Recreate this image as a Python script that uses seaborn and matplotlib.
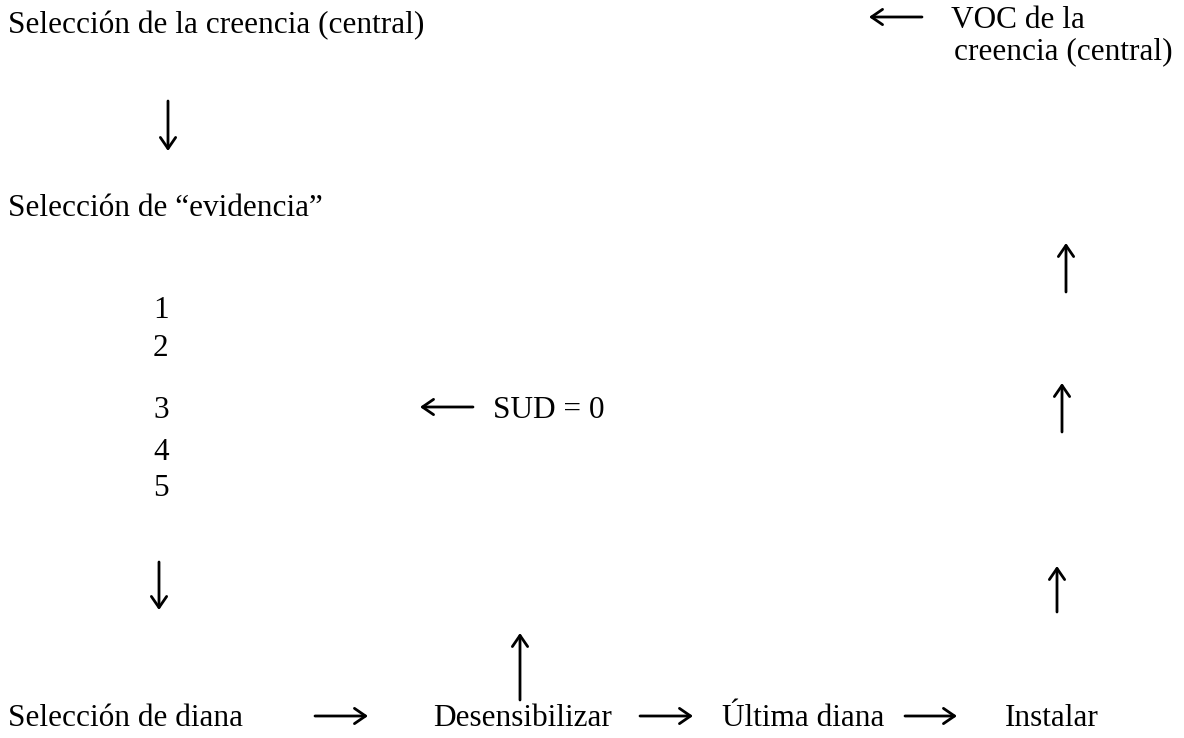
import matplotlib
matplotlib.use("Agg")
import matplotlib.pyplot as plt
import seaborn as sns

sns.set_theme(style="white")
plt.rcParams['font.family'] = ['Liberation Serif', 'DejaVu Serif']

# Diagram content
labels = ["Selección de la creencia (central)", "Selección de “evidencia”",
          "1", "2", "3", "4", "5", "SUD = 0",
          "VOC de la", "creencia (central)",
          "Selección de diana", "Desensibilizar", "Última diana", "Instalar"]
label_x = [8, 8, 153, 153, 153, 153, 153, 493, 951, 954, 8, 433, 722, 1005]
label_y = [26, 208, 311, 349, 410, 452, 489, 410, 20, 52, 718, 718, 718, 718]

# Arrows: (x_start, y_start, x_end, y_end)
arrow_x0 = [168, 159, 473, 922, 1066, 1062, 1057, 520, 315, 640, 905]
arrow_y0 = [101, 562, 407, 17, 292, 432, 612, 700, 716, 716, 716]
arrow_x1 = [168, 159, 420, 869, 1066, 1062, 1057, 520, 368, 693, 957]
arrow_y1 = [151, 610, 407, 17, 243, 383, 566, 633, 716, 716, 716]

fig = plt.figure(figsize=(11.84, 7.38), dpi=100)
ax = fig.add_axes([0, 0, 1, 1])
ax.set_xlim(0, 1184)
ax.set_ylim(738, 0)
ax.axis("off")

for t, x, y in zip(labels, label_x, label_y):
    ax.text(x, y, t, fontsize=22.5, ha="left", va="center", color="black")

for x0, y0, x1, y1 in zip(arrow_x0, arrow_y0, arrow_x1, arrow_y1):
    ax.annotate("", xy=(x1, y1), xytext=(x0, y0),
                arrowprops=dict(arrowstyle="->,head_length=0.8,head_width=0.55",
                                mutation_scale=10, lw=2.0, color="black",
                                shrinkA=0, shrinkB=0))

fig.savefig("out.png", dpi=100, facecolor="white")
